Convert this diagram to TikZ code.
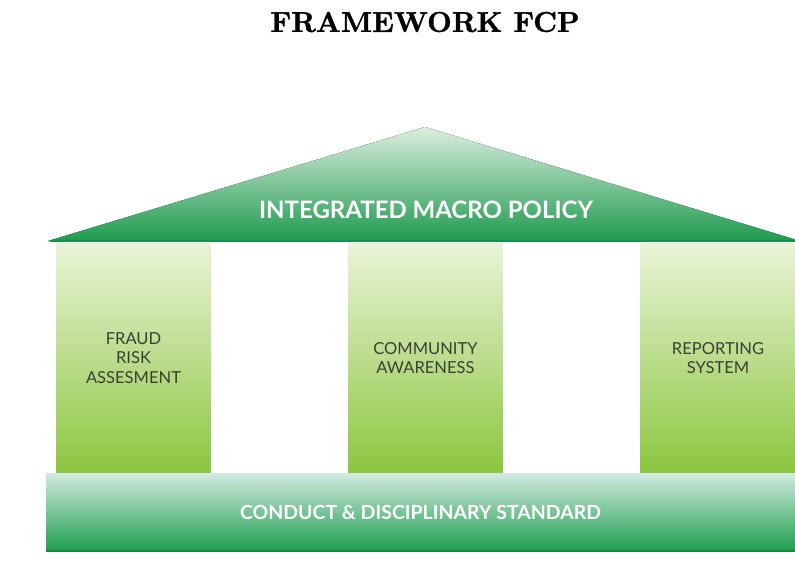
\documentclass[tikz,border=0pt]{standalone}
\usepackage{fontspec}
\newfontfamily\housefont{Lato}
\newfontfamily\titlefont[FakeBold=1.2]{lmroman10-bold.otf}
\usepackage{tikz}

\definecolor{rooftop}{HTML}{DCEEDF}
\definecolor{roofbot}{HTML}{1E9A4E}
\definecolor{roofedge}{HTML}{16904A}
\definecolor{pillartop}{HTML}{EAF3D8}
\definecolor{pillarbot}{HTML}{8CC63F}
\definecolor{pillartext}{HTML}{3A3F36}
\definecolor{basetop}{HTML}{D2EAE0}
\definecolor{basebot}{HTML}{1E9D4E}
\definecolor{baseedge}{HTML}{118A3E}

\begin{document}
\begin{tikzpicture}
  [x=0.75pt,y=-0.75pt,every node/.style={inner sep=0pt,align=center},
   pillar/.style={minimum width=116pt,minimum height=172.5pt,
     top color=pillartop,bottom color=pillarbot,text=pillartext,
     font=\housefont\fontsize{12.4}{14.6}\selectfont}]
  \useasboundingbox (0,0) rectangle (795,563);

  \node [font=\titlefont\fontsize{21.5}{24}\selectfont] (title) at (425,22) {FRAMEWORK FCP};

  % roof
  \fill [top color=rooftop,bottom color=roofbot] (48,241) -- (425,127) -- (800,241) -- cycle;
  \draw [roofedge,line width=1.5pt] (50,240.5) -- (795,240.5);
  \node [text=white,font=\housefont\bfseries\fontsize{18}{20}\selectfont] (roof) at (426,210) {INTEGRATED MACRO POLICY};

  % pillars
  \foreach \name/\x/\txt in {fraud/133.5/{FRAUD\\RISK\\ASSESMENT},
                             community/425.5/{COMMUNITY\\AWARENESS},
                             reporting/718/{REPORTING\\SYSTEM}}
    \node [pillar] (\name) at (\x,358) {\txt};

  % base
  \node [minimum width=561.75pt,minimum height=58.5pt,top color=basetop,bottom color=basebot,
         text=white,font=\housefont\bfseries\fontsize{14.6}{16}\selectfont] (base) at (420.5,512)
        {CONDUCT \& DISCIPLINARY STANDARD};
  \draw [baseedge,line width=1.2pt] (base.south west) -- (base.south east);

\end{tikzpicture}
\end{document}
